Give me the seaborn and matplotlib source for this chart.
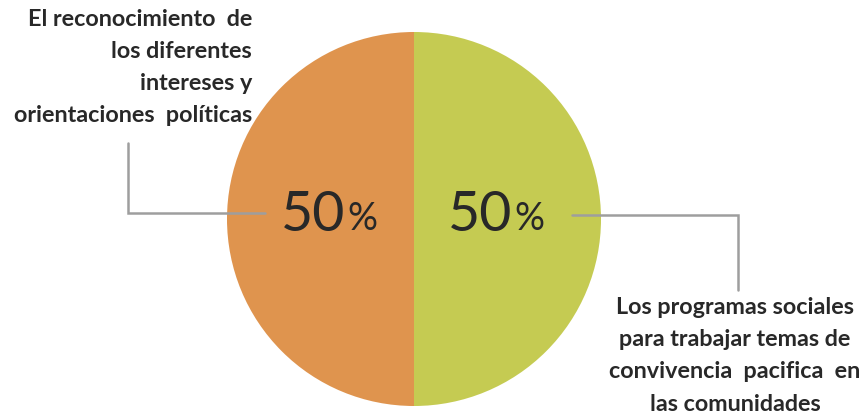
import matplotlib
matplotlib.use("Agg")
import matplotlib.pyplot as plt
import seaborn as sns

# data
categories = ["El reconocimiento de los diferentes intereses y orientaciones políticas",
              "Los programas sociales para trabajar temas de convivencia pacifica en las comunidades"]
values = [50, 50]
left_lines = ["El reconocimiento  de", "los diferentes", "intereses y", "orientaciones  políticas"]
right_lines = ["Los programas sociales", "para trabajar temas de", "convivencia  pacifica  en", "las comunidades"]
colors = ["#DF944E", "#C5CB52"]

sns.set_theme(style="white")
plt.rcParams["font.family"] = ["Lato", "DejaVu Sans"]

W, H = 867, 415
fig = plt.figure(figsize=(W / 100, H / 100), dpi=100)
ax = fig.add_axes([0, 0, 1, 1])

cx, cy, r = 414, H - 219, 187
ax.pie(values, colors=colors, startangle=90, counterclock=True,
       center=(cx, cy), radius=r, wedgeprops=dict(linewidth=0))
ax.set_xlim(0, W)
ax.set_ylim(0, H)
ax.set_aspect("equal")
ax.axis("off")

txt = "#282828"
# percentage labels
for xnum, v in [(345, values[0]), (512, values[1])]:
    ax.text(xnum, H - 216, f"{v}", ha="right", va="center", fontsize=40, color=txt)
    ax.text(xnum + 2, H - 219, "%", ha="left", va="center", fontsize=27, color=txt)

# leader lines
gray = "#9E9E9E"
ax.plot([265, 128, 128], [H - 213, H - 213, H - 143], color=gray, lw=1.8, solid_joinstyle="miter")
ax.plot([572, 738, 738], [H - 215, H - 215, H - 290], color=gray, lw=1.8, solid_joinstyle="miter")

# category labels
for i, line in enumerate(left_lines):
    ax.text(252, H - (20 + 32 * i), line, ha="right", va="center",
            fontsize=16.8, fontweight="bold", color=txt)
for i, line in enumerate(right_lines):
    ax.text(735, H - (308 + 32 * i), line, ha="center", va="center",
            fontsize=16.8, fontweight="bold", color=txt)

fig.savefig("out.png", dpi=100)
